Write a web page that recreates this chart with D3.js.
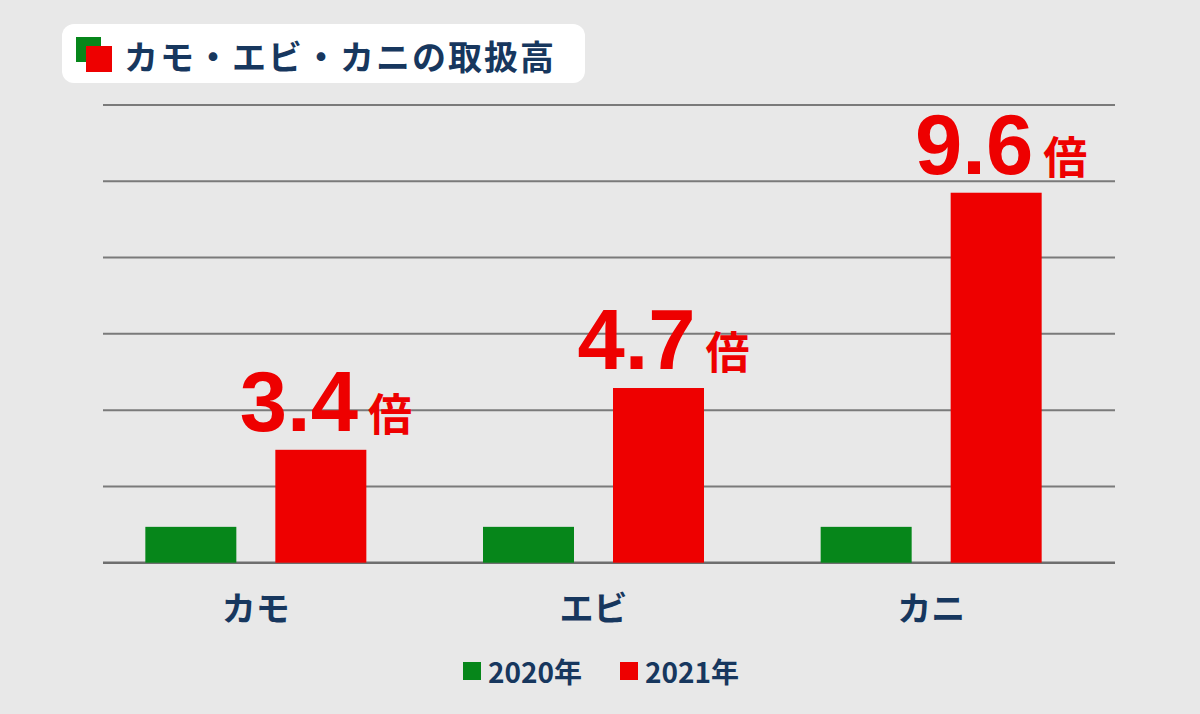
<!DOCTYPE html>
<html><head><meta charset="utf-8">
<script src="https://cdn.jsdelivr.net/npm/d3@7"></script>
<style>
html,body{margin:0;padding:0;background:#e8e8e8;}
svg{display:block;}
</style></head>
<body>
<script>
const title = "カモ・エビ・カニの取扱高";
const categories = ["カモ", "エビ", "カニ"];
const seriesNames = ["2020年", "2021年"];
const values2020 = [0.47, 0.47, 0.47];
const values2021 = [1.48, 2.29, 4.85];
const ratioLabels = ["3.4", "4.7", "9.6"];
const ratioUnit = "倍";
const yTicks = [0, 1, 2, 3, 4, 5, 6];

const W = 1200, H = 714;
const colors = {"2020年": "#06861a", "2021年": "#ee0000"};
const navy = "#17375e";
const jp = "'Noto Sans CJK JP','Noto Sans',sans-serif";
const num = "'Liberation Sans',Arial,sans-serif";

const svg = d3.select("body").append("svg").attr("width", W).attr("height", H);
svg.append("rect").attr("width", W).attr("height", H).attr("fill", "#e8e8e8");

// title box
const tg = svg.append("g");
tg.append("rect").attr("x", 62).attr("y", 24).attr("width", 523).attr("height", 59).attr("rx", 12).attr("fill", "#ffffff");
tg.append("rect").attr("x", 76).attr("y", 37).attr("width", 25).attr("height", 25).attr("fill", colors["2020年"]);
tg.append("rect").attr("x", 86).attr("y", 46).attr("width", 26).attr("height", 26).attr("fill", colors["2021年"]);
tg.append("text").attr("x", 124).attr("y", 55).attr("dominant-baseline", "central")
  .attr("font-family", jp).attr("font-weight", 700).attr("font-size", 34).attr("fill", navy)
  .attr("textLength", 430).attr("lengthAdjust", "spacing")
  .text(title);

const y = d3.scaleLinear().domain([0, 6]).range([562.7, 105]);
const x0 = d3.scaleBand().domain(categories).range([87, 1100]);
const x1 = d3.scaleBand().domain(seriesNames).range([-110.5, 110.5]).paddingInner(0.3);

// gridlines
svg.append("g").selectAll("line").data(yTicks).join("line")
  .attr("x1", 103).attr("x2", 1115)
  .attr("y1", d => y(d)).attr("y2", d => y(d))
  .attr("stroke", d => d === 0 ? "#6e6e6e" : "#7a7a7a").attr("stroke-width", d => d === 0 ? 2.5 : 2);

// bars
const rows = categories.map((c, i) => ({cat: c, vals: [
  {s: "2020年", v: values2020[i]}, {s: "2021年", v: values2021[i]}], label: ratioLabels[i]}));

const g = svg.append("g").selectAll("g").data(rows).join("g")
  .attr("transform", d => `translate(${x0(d.cat) + x0.bandwidth() / 2},0)`);
g.selectAll("rect").data(d => d.vals).join("rect")
  .attr("x", d => x1(d.s)).attr("width", x1.bandwidth())
  .attr("y", d => y(d.v)).attr("height", d => y(0) - y(d.v))
  .attr("fill", d => colors[d.s]);

// ratio labels
const lab = g.append("text")
  .attr("x", x1("2021年") + x1.bandwidth() / 2 + 5)
  .attr("y", d => y(d.vals[1].v) - 19)
  .attr("text-anchor", "middle").attr("fill", "#ee0000");
lab.append("tspan").attr("font-family", num).attr("font-weight", 700).attr("font-size", 85).text(d => d.label);
lab.append("tspan").attr("dx", 10).attr("font-family", jp).attr("font-weight", 700).attr("font-size", 44).text(ratioUnit);

// category axis labels
svg.append("g").selectAll("text").data(categories).join("text")
  .attr("x", d => x0(d) + x0.bandwidth() / 2).attr("y", 621)
  .attr("text-anchor", "middle").attr("font-family", jp).attr("font-weight", 700).attr("font-size", 34)
  .attr("fill", navy).text(d => d);

// legend
const legX = [463, 620];
const lg = svg.append("g").selectAll("g").data(seriesNames).join("g")
  .attr("transform", (d, i) => `translate(${legX[i]},0)`);
lg.append("rect").attr("x", 0).attr("y", 662).attr("width", 18).attr("height", 18).attr("fill", d => colors[d]);
lg.append("text").attr("x", 25).attr("y", 683).attr("font-family", jp).attr("font-weight", 700)
  .attr("font-size", 28).attr("fill", navy).text(d => d);
</script>
</body></html>
